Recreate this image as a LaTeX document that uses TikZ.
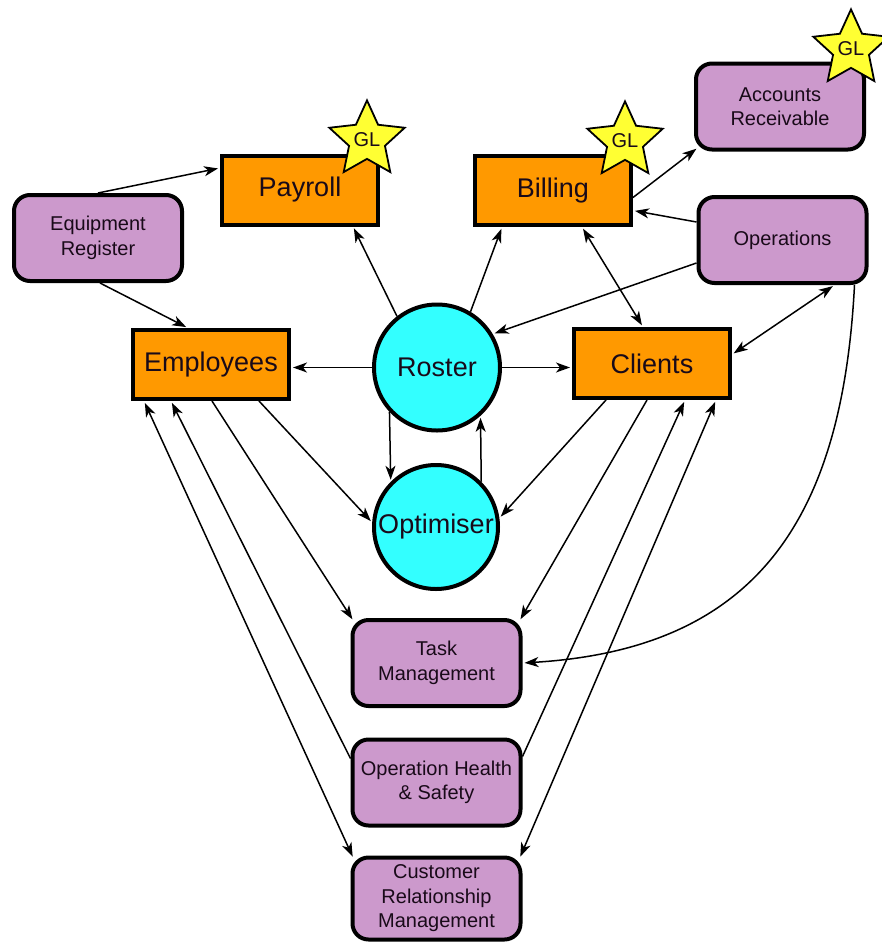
\documentclass[tikz,border=0pt]{standalone}
\usepackage{fontspec}
\setmainfont{Liberation Sans}
\usetikzlibrary{shapes.geometric,arrows.meta,calc}
\definecolor{orng}{RGB}{255,153,0}
\definecolor{purp}{RGB}{204,153,204}
\definecolor{cyn}{RGB}{51,255,255}
\definecolor{yel}{RGB}{255,255,51}
\definecolor{ink}{RGB}{25,10,25}
\begin{document}
\begin{tikzpicture}[x=1pt,y=-1pt,
  orbox/.style={draw=black, line width=4pt, fill=orng, minimum width=156pt, minimum height=69pt, inner sep=0pt, text=ink, font=\fontsize{27}{32}\selectfont},
  pubox/.style={draw=black, line width=4pt, fill=purp, rounded corners=16pt, minimum width=168pt, minimum height=86pt, inner sep=0pt, align=center, text=ink, font=\fontsize{20}{24.5}\selectfont},
  circ/.style={circle, draw=black, line width=4pt, fill=cyn, inner sep=0pt, text=ink, font=\fontsize{27}{32}\selectfont},
  glstar/.style={star, star points=5, star point ratio=2.1, draw=black, line width=1.8pt, fill=yel, minimum size=72pt, inner sep=0pt, text=ink, font=\fontsize{20}{22}\selectfont},
  tip/.tip={Stealth[length=14pt,width=10pt,inset=4pt]},
  conn/.style={line width=1.5pt, -tip, shorten >=2pt},
  dconn/.style={line width=1.5pt, tip-tip, shorten >=2pt, shorten <=2pt},
]
\useasboundingbox[fill=white] (0,0) rectangle (882,943);

% nodes
\node[pubox] (eqreg) at (98,238) {Equipment\\Register};
\node[orbox] (payroll) at (300,190) {Payroll};
\node[orbox] (billing) at (553,190.5) {Billing};
\node[pubox] (ar) at (780,106.5) {Accounts\\Receivable};
\node[pubox] (ops) at (782.5,240) {Operations};
\node[orbox] (emp) at (211,364.5) {Employees};
\node[orbox] (clients) at (652,363.5) {Clients};
\node[circ, minimum size=126pt] (roster) at (437,367.5) {Roster};
\node[circ, minimum size=124pt] (opt) at (436,527) {Optimiser};
\node[pubox] (task) at (436.5,663) {Task\\Management};
\node[pubox] (ohs) at (436.5,782.5) {Operation Health\\\& Safety};
\node[pubox, minimum height=82pt] (crm) at (436.5,898.5) {Customer\\Relationship\\Management};

\node[glstar] (s1) at (367,140) {GL};
\node[glstar] (s2) at (625,141) {GL};
\node[glstar] (s3) at (851,49) {GL};

% connectors
\draw[conn] (eqreg.north) -- ([yshift=22pt]payroll.west);
\draw[conn] ([xshift=2pt]eqreg.south) -- ([xshift=-23pt]emp.north);
\draw[conn] (roster.128) -- ([xshift=53pt]payroll.south);
\draw[conn] (roster.59) -- ([xshift=-51pt]billing.south);
\draw[conn] (roster.west) -- (roster.west -| emp.east);
\draw[conn] (roster.east) -- (roster.east -| clients.west);
\draw[conn] ([yshift=-23pt]ops.west) -- (roster.31);
\draw[conn] ([yshift=18pt]ops.west) -- ([yshift=-20pt]billing.east);
\draw[conn] ([yshift=-7pt]billing.east) -- ([shift={(4pt,4pt)}]ar.south west);
\draw[dconn] ([xshift=29pt]billing.south) -- ([xshift=-9pt]clients.north);
\draw[dconn] ([yshift=9pt]clients.east) -- ([xshift=52pt]ops.south);
\draw[conn] ([xshift=72pt]ops.south) .. controls +(-12,233) and +(235,-14) .. (task.east);
\draw[conn] (roster.223) -- (opt.135);
\draw[conn] (opt.45) -- (roster.312);
\draw[conn] ([xshift=48pt]emp.south) -- (opt.176);
\draw[conn] ([xshift=-46pt]clients.south) -- (opt.8);
\draw[conn] ([xshift=1pt]emp.south) -- ([shift={(3pt,-3pt)}]task.north west);
\draw[conn] ([xshift=-5pt]clients.south) -- ([shift={(-3pt,-3pt)}]task.north east);
\draw[conn] ([yshift=24pt]ohs.west) -- ([xshift=-40pt]emp.south);
\draw[conn] ([yshift=26pt]ohs.east) -- ([xshift=33pt]clients.south);
\draw[dconn] ([xshift=-67pt]emp.south) -- ([shift={(3pt,-3pt)}]crm.north west);
\draw[dconn] ([xshift=64pt]clients.south) -- ([shift={(-3pt,-3pt)}]crm.north east);
\end{tikzpicture}
\end{document}
